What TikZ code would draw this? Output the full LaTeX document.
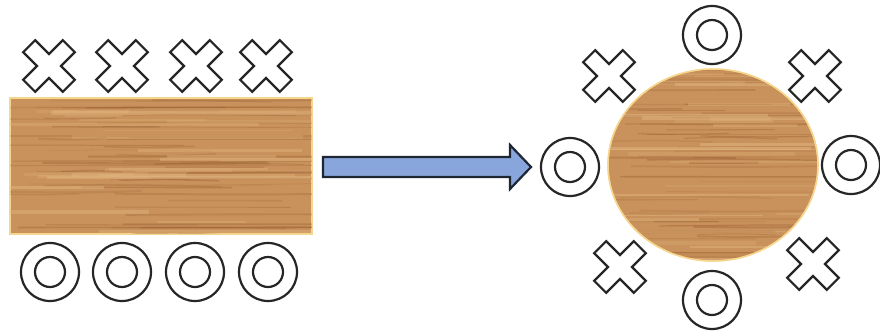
\documentclass[tikz,border=0pt]{standalone}
\usetikzlibrary{shapes.geometric}
\definecolor{wood}{RGB}{201,146,92}
\definecolor{wooddark}{RGB}{150,92,48}
\definecolor{woodlight}{RGB}{226,182,128}
\definecolor{woodedge}{RGB}{246,214,140}
\definecolor{arrowblue}{RGB}{137,166,220}
\definecolor{arrowline}{RGB}{30,38,52}
\tikzset{
  symline/.style={line width=2.2bp, draw=black!85, line join=miter},
  crossmark/.pic={
    \draw[symline, rotate=45] (28,8.5) -- (8.5,8.5) -- (8.5,28) -- (-8.5,28) -- (-8.5,8.5) -- (-28,8.5)
      -- (-28,-8.5) -- (-8.5,-8.5) -- (-8.5,-28) -- (8.5,-28) -- (8.5,-8.5) -- (28,-8.5) -- cycle;
  },
  ringmark/.pic={
    \draw[symline] (0,0) circle[radius=29];
    \draw[symline] (0,0) circle[radius=15];
  },
  tabletop/.style={fill=wood, draw=woodedge, line width=1.2bp, inner sep=0pt},
}
\newcommand{\woodgrain}[4]{% x1 y1 x2 y2
  \pgfmathsetseed{#1#2}
  \foreach \i in {1,...,55}{
    \pgfmathsetmacro{\yy}{#2+rnd*(#4-#2)}
    \pgfmathsetmacro{\xa}{#1+rnd*(#3-#1)*0.6-20}
    \pgfmathsetmacro{\xb}{\xa+60+rnd*(#3-#1)}
    \pgfmathsetmacro{\dy}{rnd*3-1.5}
    \pgfmathsetmacro{\op}{0.12+rnd*0.3}
    \pgfmathsetmacro{\lw}{0.6+rnd*1.6}
    \draw[wooddark, opacity=\op, line width=\lw bp] (\xa,\yy) .. controls ({(\xa+\xb)/2},{\yy+\dy}) .. (\xb,{\yy-\dy/2});
  }
  \foreach \i in {1,...,25}{
    \pgfmathsetmacro{\yy}{#2+rnd*(#4-#2)}
    \pgfmathsetmacro{\xa}{#1+rnd*(#3-#1)*0.6-20}
    \pgfmathsetmacro{\xb}{\xa+50+rnd*(#3-#1)}
    \pgfmathsetmacro{\op}{0.2+rnd*0.3}
    \pgfmathsetmacro{\lw}{1+rnd*3}
    \draw[woodlight, opacity=\op, line width=\lw bp] (\xa,\yy) -- (\xb,\yy);
  }
}
\begin{document}
\begin{tikzpicture}[x=1bp, y=-1bp]
  \useasboundingbox (0,0) rectangle (880,335);
  \fill[white] (0,0) rectangle (880,335);

  % long table
  \node[tabletop, rectangle, minimum width=302bp, minimum height=136bp] (longtable) at (161,166) {};
  \begin{scope}
    \clip (10,98) rectangle (312,234);
    \woodgrain{10}{98}{312}{234}
  \end{scope}
  \draw[woodedge, line width=1.2bp] (longtable.north west) rectangle (longtable.south east);

  % crosses and rings by the long table
  \pic (xa) at (49,66) {crossmark};
  \pic (xb) at (122,66) {crossmark};
  \pic (xc) at (196,66) {crossmark};
  \pic (xd) at (266,66) {crossmark};
  \pic (oa) at (50,272) {ringmark};
  \pic (ob) at (122,272) {ringmark};
  \pic (oc) at (195,272) {ringmark};
  \pic (od) at (268,272) {ringmark};

  % arrow
  \draw[fill=arrowblue, draw=arrowline, line width=2.2bp, line join=miter]
    (323,157) -- (510,157) -- (510,145) -- (531,167) -- (510,189) -- (510,177) -- (323,177) -- cycle;

  % round table
  \node[tabletop, ellipse, minimum width=210bp, minimum height=192bp] (roundtable) at (713,165) {};
  \begin{scope}
    \clip (713,165) ellipse[x radius=105, y radius=96];
    \woodgrain{608}{69}{818}{261}
  \end{scope}
  \draw[woodedge, line width=1.5bp] (713,165) ellipse[x radius=105, y radius=96];

  % crosses and rings round the round table
  \pic (ra) at (712,35) {ringmark};
  \pic (rb) at (570,167) {ringmark};
  \pic (rc) at (851,165) {ringmark};
  \pic (rd) at (712,300) {ringmark};
  \pic (ya) at (609,76) {crossmark};
  \pic (yb) at (815,76) {crossmark};
  \pic (yc) at (620,267) {crossmark};
  \pic (yd) at (813,264) {crossmark};
\end{tikzpicture}
\end{document}
